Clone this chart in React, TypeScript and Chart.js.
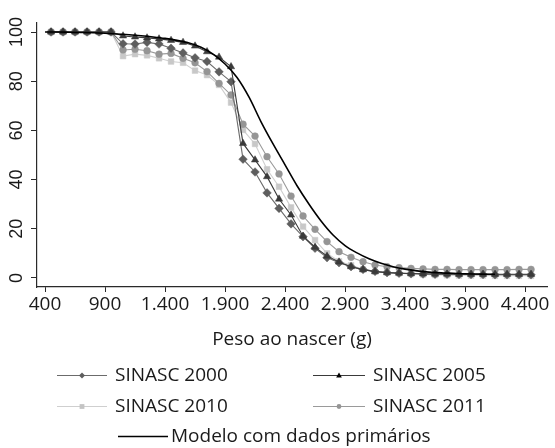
import React, { useEffect, useRef } from 'react';
import { Chart, registerables } from 'chart.js';

Chart.register(...registerables);

// Birth weight bin midpoints (g)
const weights = [
  450, 550, 650, 750, 850, 950, 1050, 1150, 1250, 1350, 1450, 1550, 1650, 1750, 1850, 1950,
  2050, 2150, 2250, 2350, 2450, 2550, 2650, 2750, 2850, 2950, 3050, 3150, 3250, 3350, 3450,
  3550, 3650, 3750, 3850, 3950, 4050, 4150, 4250, 4350, 4450,
];

const sinasc2000 = [
  100, 100, 100, 100, 100, 100, 95.2, 95.1, 95.8, 95.1, 93.4, 91.5, 89.5, 88, 83.8, 79.8,
  48.3, 43.1, 34.6, 28.3, 22, 16.8, 12.1, 8.3, 6.2, 4.6, 3.5, 2.7, 2.2, 1.9, 1.7,
  1.6, 1.5, 1.5, 1.4, 1.4, 1.4, 1.3, 1.3, 1.3, 1.3,
];

const sinasc2005 = [
  100, 100, 100, 100, 100, 100, 98.4, 98, 97.6, 97.2, 96.6, 95.8, 94.3, 92, 89.8, 85.9,
  54.7, 48, 41.2, 32.1, 25.6, 17, 12.5, 8.9, 6.5, 4.6, 3.4, 2.6, 2.2, 2, 1.8,
  1.7, 1.6, 1.6, 1.5, 1.5, 1.5, 1.5, 1.5, 1.5, 1.5,
];

const sinasc2010 = [
  100, 100, 100, 100, 100, 100, 90.2, 91, 90.5, 89.3, 88, 87.5, 84.3, 82.5, 78.5, 71.3,
  60.2, 54.5, 44.2, 37.1, 28.7, 20.9, 15.4, 10, 6.8, 5.2, 3.5, 2.6, 2.2, 1.9, 1.6,
  1.4, 1.2, 1.1, 1, 1, 1, 0.9, 0.9, 0.9, 0.9,
];

const sinasc2011 = [
  100, 100, 100, 100, 100, 100, 92.7, 93, 92.4, 91, 91.3, 89.3, 87.5, 83.9, 79.1, 74.4,
  62.5, 57.7, 49.3, 42.3, 33.3, 25.2, 19.8, 14.8, 10.7, 8.4, 6.6, 5.3, 4.6, 4.2, 3.9,
  3.7, 3.5, 3.5, 3.4, 3.4, 3.4, 3.4, 3.4, 3.5, 3.5,
];

const modelWeights = [
  400, 500, 600, 700, 800, 900, 1000, 1100, 1200, 1300, 1400, 1500, 1600, 1700, 1800, 1900,
  2000, 2100, 2200, 2300, 2400, 2500, 2600, 2700, 2800, 2900, 3000, 3100, 3200, 3300, 3400,
  3500, 3600, 3700, 3800, 3900, 4000, 4100, 4150,
];

const modelValues = [
  100, 100, 99.9, 99.8, 99.7, 99.5, 99.2, 98.9, 98.5, 98, 97.4, 96.6, 95.5, 93.8, 91, 87,
  81.5, 73.5, 63.5, 54.5, 46, 37.5, 30, 23.2, 17.5, 13.2, 10.2, 7.8, 6, 4.6, 3.6,
  2.9, 2.4, 2.1, 1.9, 1.7, 1.6, 1.5, 1.5,
];

const xTickValues = [400, 900, 1400, 1900, 2400, 2900, 3400, 3900, 4400];
const yTickValues = [0, 20, 40, 60, 80, 100];

const seriesLabels = [
  'SINASC 2000',
  'SINASC 2005',
  'SINASC 2010',
  'SINASC 2011',
  'Modelo com dados primários',
];
const xTitle = 'Peso ao nascer (g)';

const fmtThousands = (v: number) => {
  if (v >= 1000) {
    const th = Math.floor(v / 1000);
    const rest = String(v % 1000).padStart(3, '0');
    return `${th}.${rest}`;
  }
  return String(v);
};

const TEXT_FONT = '"Open Sans"';

function drawMarker(ctx: CanvasRenderingContext2D, style: string, x: number, y: number, r: number, color: string) {
  ctx.save();
  ctx.fillStyle = color;
  ctx.beginPath();
  if (style === 'rectRot') {
    ctx.moveTo(x, y - r);
    ctx.lineTo(x + r, y);
    ctx.lineTo(x, y + r);
    ctx.lineTo(x - r, y);
    ctx.closePath();
  } else if (style === 'triangle') {
    ctx.moveTo(x, y - r);
    ctx.lineTo(x + r * 0.95, y + r * 0.7);
    ctx.lineTo(x - r * 0.95, y + r * 0.7);
    ctx.closePath();
  } else if (style === 'rect') {
    ctx.rect(x - r * 0.8, y - r * 0.8, r * 1.6, r * 1.6);
  } else if (style === 'circle') {
    ctx.arc(x, y, r * 0.8, 0, Math.PI * 2);
  }
  ctx.fill();
  ctx.restore();
}

const yLabelPlugin = {
  id: 'yLabels',
  afterDraw(chart: any) {
    const ctx = chart.ctx as CanvasRenderingContext2D;
    const ys = chart.scales.y;
    ctx.save();
    ctx.font = '18px "Liberation Sans"';
    ctx.fillStyle = '#1a1a1a';
    ctx.textAlign = 'center';
    ctx.textBaseline = 'middle';
    for (const t of ys.ticks) {
      const py = ys.getPixelForValue(t.value);
      ctx.save();
      ctx.translate(17, py);
      ctx.rotate(-Math.PI / 2);
      ctx.fillText(String(t.value), 0, 0);
      ctx.restore();
    }
    ctx.restore();
  },
};

const legendPlugin = {
  id: 'customLegend',
  afterDraw(chart: any) {
    const ctx = chart.ctx as CanvasRenderingContext2D;
    const ds = chart.data.datasets;
    const find = (label: string) => ds.find((d: any) => d.label === label);
    const entries = [
      { label: seriesLabels[0], x0: 57, x1: 107, tx: 115, y: 375 },
      { label: seriesLabels[1], x0: 313, x1: 365, tx: 373, y: 375 },
      { label: seriesLabels[2], x0: 57, x1: 107, tx: 115, y: 406 },
      { label: seriesLabels[3], x0: 313, x1: 365, tx: 373, y: 406 },
      { label: seriesLabels[4], x0: 118, x1: 168, tx: 171, y: 436 },
    ];
    ctx.save();
    ctx.font = `19px ${TEXT_FONT}`;
    ctx.textBaseline = 'middle';
    ctx.textAlign = 'left';
    for (const e of entries) {
      const d = find(e.label);
      if (!d) continue;
      ctx.strokeStyle = d.borderColor;
      ctx.lineWidth = d.borderWidth || 1;
      ctx.beginPath();
      ctx.moveTo(e.x0, e.y + 0.5);
      ctx.lineTo(e.x1, e.y + 0.5);
      ctx.stroke();
      if (d.pointRadius > 0) {
        drawMarker(ctx, d.pointStyle, (e.x0 + e.x1) / 2, e.y + 0.5, 3, d.legendMarkerColor || d.pointBackgroundColor);
      }
      ctx.fillStyle = '#1a1a1a';
      ctx.fillText(e.label, e.tx, e.y + 1);
    }
    ctx.restore();
  },
};

export default function App() {
  const canvasRef = useRef<HTMLCanvasElement | null>(null);

  useEffect(() => {
    const canvas = canvasRef.current;
    if (!canvas) return;
    const mk = (arr: number[]) => weights.map((w, i) => ({ x: w, y: arr[i] }));
    const chart = new Chart(canvas, {
      type: 'line',
      data: {
        datasets: [
          {
            label: seriesLabels[4],
            data: modelWeights.map((w, i) => ({ x: w, y: modelValues[i] })),
            borderColor: '#000000',
            borderWidth: 1.6,
            pointRadius: 0,
            cubicInterpolationMode: 'monotone',
            fill: false,
          },
          {
            label: seriesLabels[1],
            data: mk(sinasc2005),
            borderColor: '#3a3a3a',
            pointBackgroundColor: '#3a3a3a',
            pointBorderColor: '#3a3a3a',
            legendMarkerColor: '#000000',
            pointStyle: 'triangle',
            pointRadius: 4.2,
            pointBorderWidth: 0.5,
            borderWidth: 1.1,
            fill: false,
          },
          {
            label: seriesLabels[0],
            data: mk(sinasc2000),
            borderColor: '#6b6b6b',
            pointBackgroundColor: '#5e5e5e',
            pointBorderColor: '#5e5e5e',
            legendMarkerColor: '#5e5e5e',
            pointStyle: 'rectRot',
            pointRadius: 4.3,
            pointBorderWidth: 0.5,
            borderWidth: 1.1,
            fill: false,
          },
          {
            label: seriesLabels[3],
            data: mk(sinasc2011),
            borderColor: '#9a9a9a',
            pointBackgroundColor: '#959595',
            pointBorderColor: '#959595',
            legendMarkerColor: '#959595',
            pointStyle: 'circle',
            pointRadius: 3.4,
            pointBorderWidth: 0.5,
            borderWidth: 1.1,
            fill: false,
          },
          {
            label: seriesLabels[2],
            data: mk(sinasc2010),
            borderColor: '#cfcfcf',
            pointBackgroundColor: '#c8c8c8',
            pointBorderColor: '#c8c8c8',
            legendMarkerColor: '#c4c4c4',
            pointStyle: 'rect',
            pointRadius: 4,
            pointBorderWidth: 0.5,
            borderWidth: 1.1,
            fill: false,
          },
        ] as any,
      },
      options: {
        animation: false,
        responsive: false,
        maintainAspectRatio: false,
        layout: { padding: { top: 23, right: 8, left: 0, bottom: 93 } },
        plugins: {
          legend: { display: false },
          tooltip: { enabled: false },
        },
        scales: {
          x: {
            type: 'linear',
            min: 333,
            max: 4583,
            afterBuildTicks: (s: any) => {
              s.ticks = xTickValues.map((v) => ({ value: v }));
            },
            afterFit: (s: any) => {
              s.height = 68;
            },
            grid: {
              drawOnChartArea: false,
              drawTicks: true,
              tickLength: 5,
              color: '#2a2a2a',
              lineWidth: 1,
            },
            border: { display: true, color: '#2a2a2a', width: 1.2 },
            ticks: {
              autoSkip: false,
              maxRotation: 0,
              minRotation: 0,
              padding: 1,
              color: '#1a1a1a',
              font: { family: TEXT_FONT, size: 19 },
              callback: (v: any) => fmtThousands(Number(v)),
            },
            title: {
              display: true,
              text: xTitle,
              color: '#1a1a1a',
              font: { family: TEXT_FONT, size: 19 },
              padding: { top: 0, bottom: 4 },
            },
          },
          y: {
            type: 'linear',
            min: -3.66,
            max: 103.66,
            afterBuildTicks: (s: any) => {
              s.ticks = yTickValues.map((v) => ({ value: v }));
            },
            afterFit: (s: any) => {
              s.width = 37;
            },
            grid: {
              drawOnChartArea: false,
              drawTicks: true,
              tickLength: 6,
              color: '#2a2a2a',
              lineWidth: 1,
            },
            border: { display: true, color: '#2a2a2a', width: 1.2 },
            ticks: {
              color: 'rgba(0,0,0,0)',
              font: { family: '"Liberation Sans"', size: 17 },
            },
          },
        },
      } as any,
      plugins: [yLabelPlugin, legendPlugin],
    });
    return () => chart.destroy();
  }, []);

  return (
    <div style={{ position: 'fixed', left: 0, top: 0, width: 555, height: 448, background: '#fff' }}>
      <canvas ref={canvasRef} width={555} height={448} style={{ width: 555, height: 448, display: 'block' }} />
    </div>
  );
}
